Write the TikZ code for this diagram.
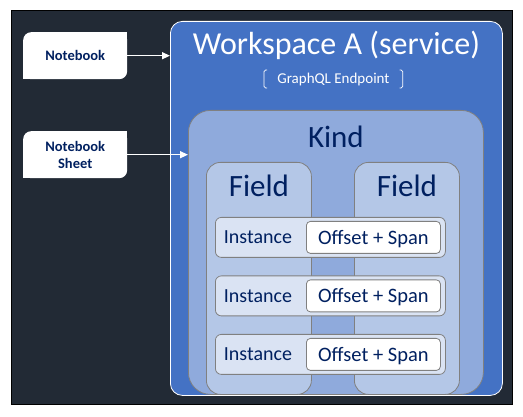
\documentclass[tikz,border=0pt]{standalone}
\usepackage{fontspec}
\setmainfont{Carlito}
\usetikzlibrary{positioning,arrows.meta}
\usepackage{xcolor}
\definecolor{backdrop}{RGB}{34,42,53}
\definecolor{wsblue}{RGB}{68,114,196}
\definecolor{kindblue}{RGB}{143,170,220}
\definecolor{fieldblue}{RGB}{180,199,231}
\definecolor{instblue}{RGB}{218,227,243}
\definecolor{navy}{RGB}{0,32,96}
\definecolor{edge}{RGB}{128,128,128}

\begin{document}
\begin{tikzpicture}[x=1pt,y=1pt,
  panel/.style={anchor=north west, inner sep=0pt, draw=edge, line width=0.8pt},
  headline/.style={anchor=base, inner sep=0pt, font=\fontsize{31}{36}\selectfont},
  celltext/.style={inner sep=0pt, text=navy, font=\fontsize{20}{24}\selectfont,
                   text height=14pt, text depth=0pt},
  sourcebox/.style={anchor=north west, fill=white, rounded corners=8pt,
                    minimum width=104pt, minimum height=47pt, align=center,
                    text=navy, font=\fontsize{14.5}{17}\selectfont\bfseries},
  feed/.style={draw=white, line width=1.4pt, -{Triangle[length=8pt,width=7pt]}},
  bracket/.style={draw=white, line width=0.7pt, rounded corners=1.5pt}]

\useasboundingbox (0,0) rectangle (523,-417);
\draw[fill=backdrop, line width=1pt] (11,-11) rectangle (512,-404);

\node[panel, draw=white, fill=wsblue, rounded corners=12pt,
      minimum width=332pt, minimum height=374pt] (ws) at (170,-21) {};
\node[headline, text=white, font=\fontsize{32}{36}\selectfont] (wstitle) at ([yshift=-34pt]ws.north) {Workspace A (service)};
\node[anchor=base, inner xsep=13pt, inner ysep=0pt, text=white,
      font=\fontsize{15}{18}\selectfont] (endpoint) at ([xshift=-3pt,yshift=-63pt]ws.north) {GraphQL Endpoint};
\draw[bracket] ([xshift=3pt,yshift=14pt]endpoint.base west) -- ([yshift=14pt]endpoint.base west)
  -- ([yshift=-4pt]endpoint.base west) -- ([xshift=3pt,yshift=-4pt]endpoint.base west);
\draw[bracket] ([xshift=-3pt,yshift=14pt]endpoint.base east) -- ([yshift=14pt]endpoint.base east)
  -- ([yshift=-4pt]endpoint.base east) -- ([xshift=-3pt,yshift=-4pt]endpoint.base east);

\node[panel, fill=kindblue, rounded corners=22pt,
      minimum width=295pt, minimum height=284pt] (kind) at (188,-110) {};
\node[headline, text=navy] (kindtitle) at ([yshift=-38pt]kind.north) {Kind};

\foreach \side/\x in {left/206, right/354} {
  \node[panel, fill=fieldblue, rounded corners=14pt,
        minimum width=105pt, minimum height=232pt] (field\side) at (\x,-162) {};
  \node[headline, text=navy] (fieldtitle\side) at ([yshift=-35pt]field\side.north) {Field};
}

\foreach \i in {1,2,3} {
  \node[panel, fill=instblue, rounded corners=6pt,
        minimum width=230pt, minimum height=40pt] (inst\i) at (215,{-217-58.5*(\i-1)}) {};
  \node[celltext] (instlabel\i) at ([xshift=43pt,yshift=-20pt]inst\i.north west) {Instance};
  \node[panel, fill=white, rounded corners=4pt, minimum width=134pt, minimum height=32pt,
        celltext, font=\fontsize{20.5}{24}\selectfont] (span\i) at ([xshift=91pt,yshift=-4pt]inst\i.north west) {Offset + Span};
}

\node[sourcebox] (notebook) at (23,-32) {Notebook};
\node[sourcebox] (sheet) at (23,-131) {Notebook\\Sheet};
\foreach \n in {notebook,sheet} {
  \fill[white] (\n.north east) rectangle ++(-9pt,-9pt);
  \fill[white] (\n.south west) rectangle ++(9pt,9pt);
}

\draw[feed] (notebook.east) -- (notebook.east -| ws.west);
\draw[feed] (sheet.east) -- (sheet.east -| kind.west);
\end{tikzpicture}
\end{document}
